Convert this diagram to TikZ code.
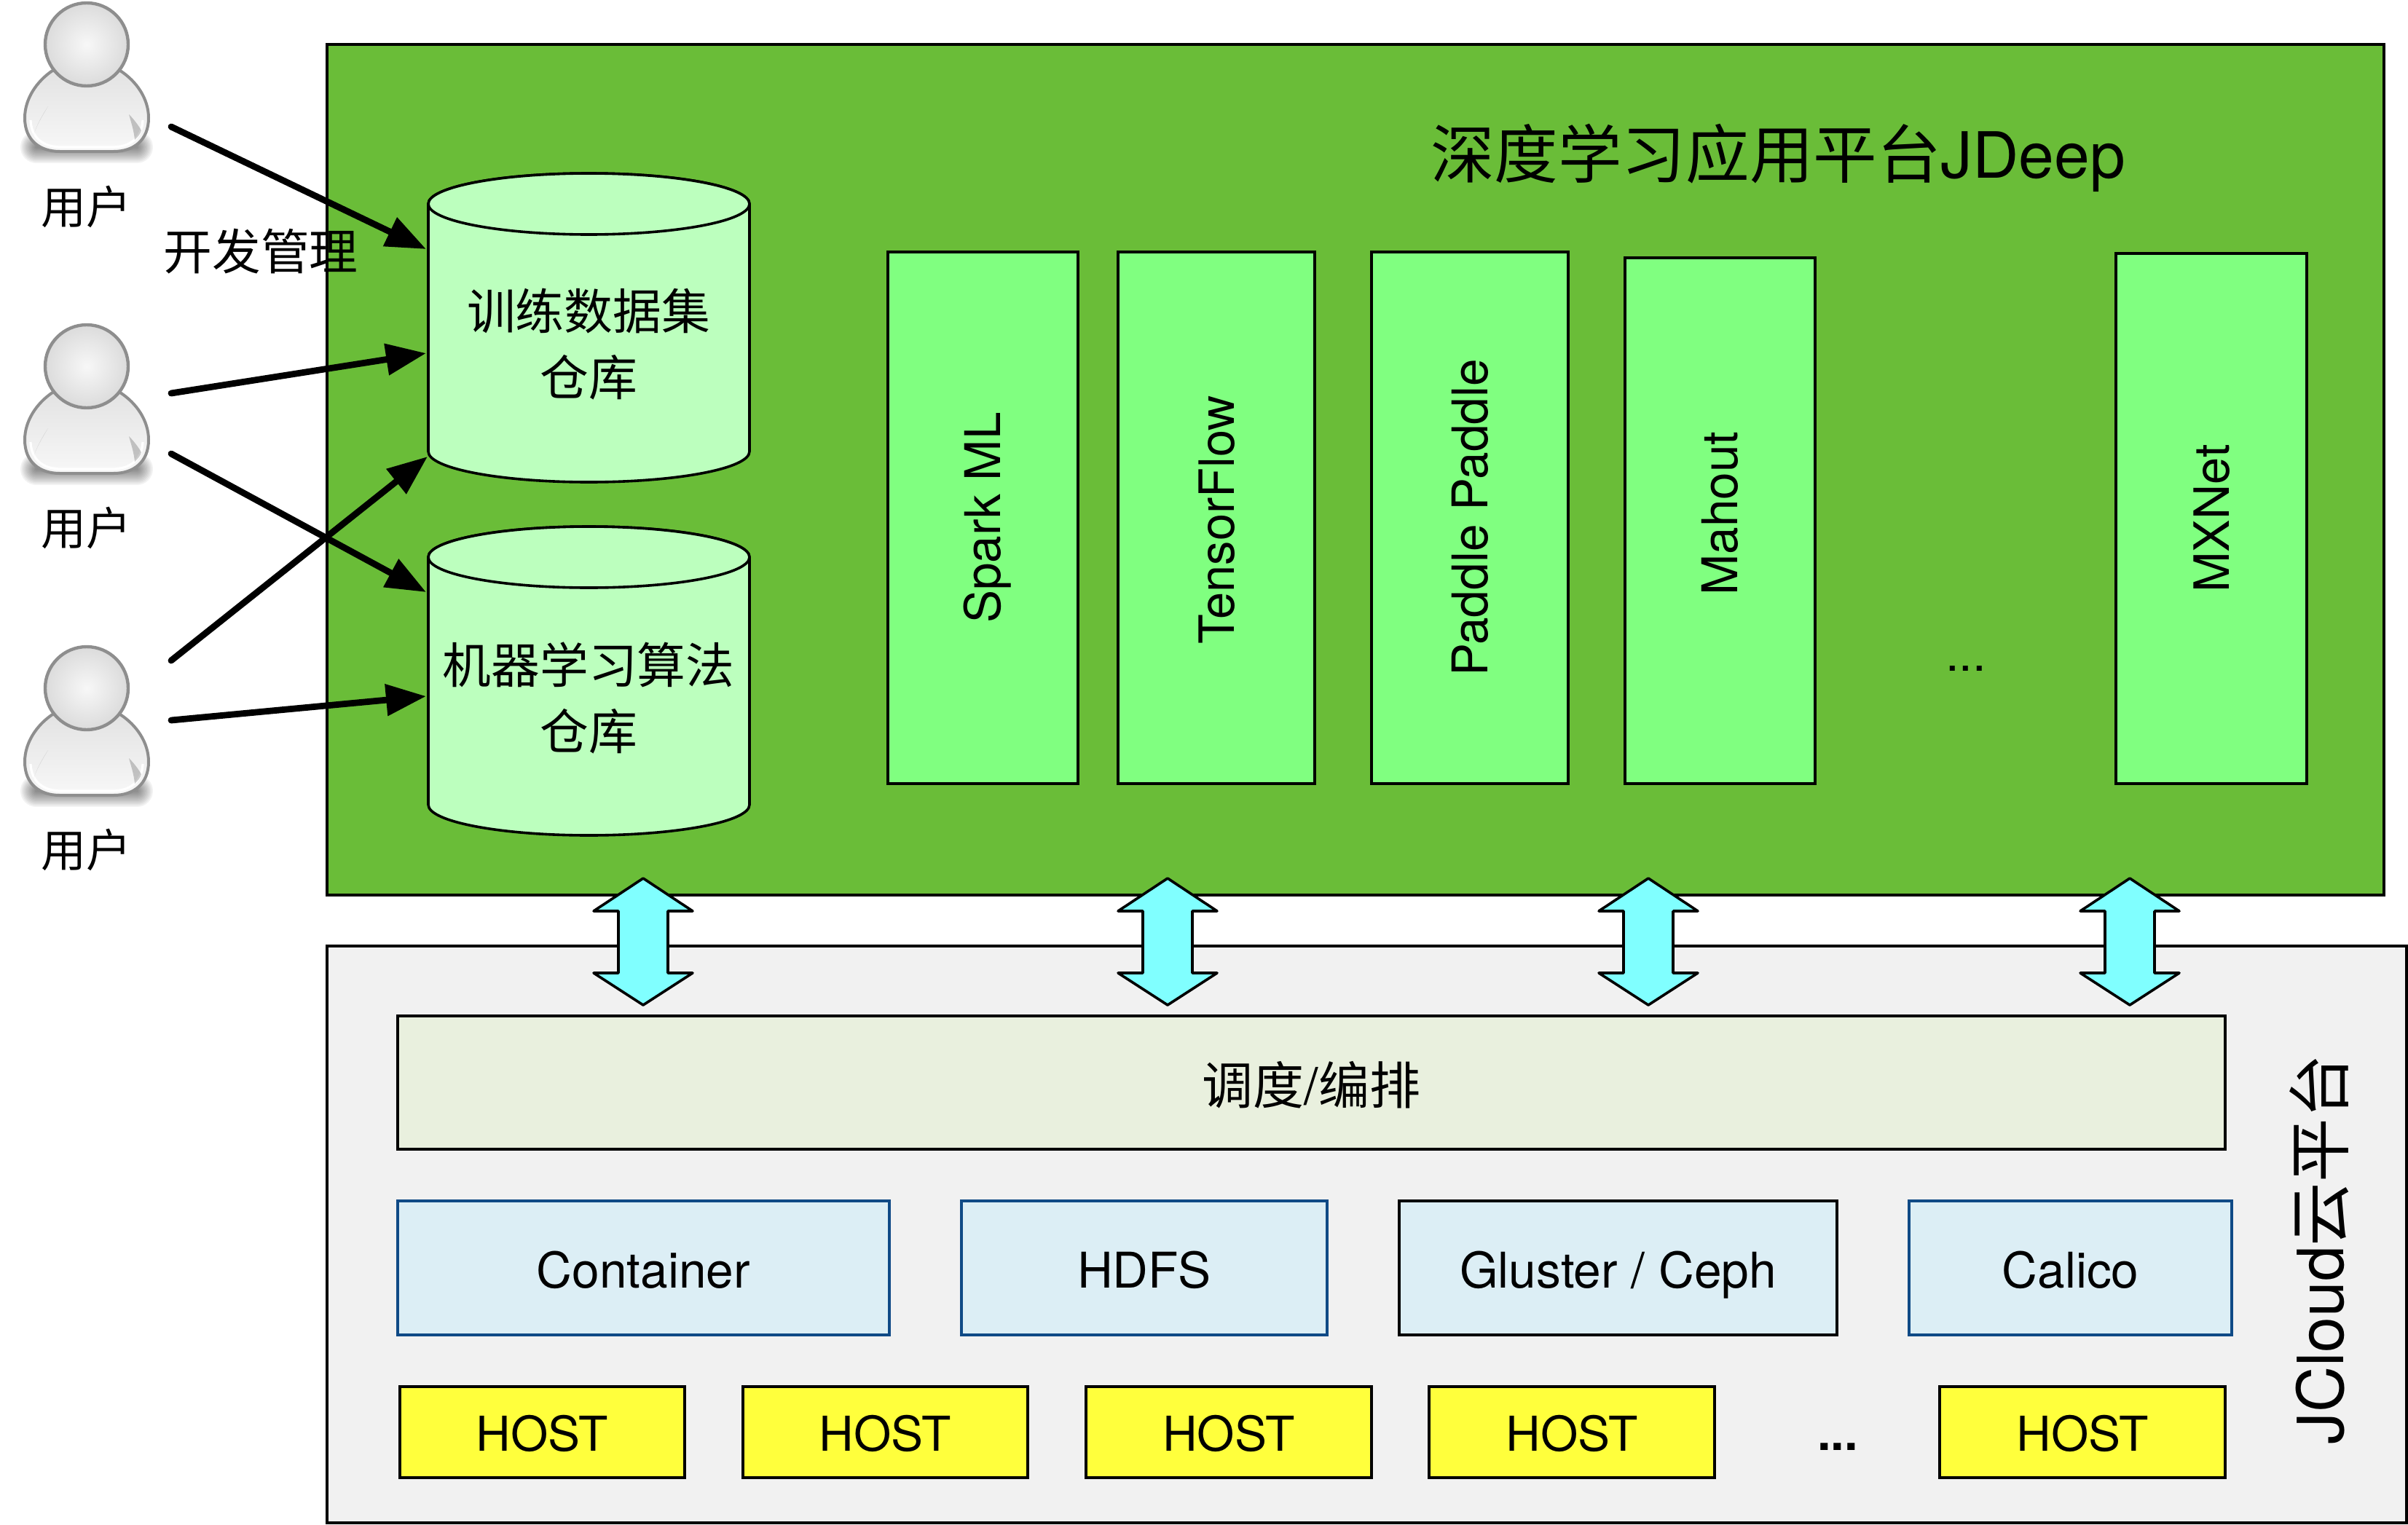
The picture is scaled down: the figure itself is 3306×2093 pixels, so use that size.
\documentclass[tikz,border=0pt]{standalone}
\usepackage{fontspec}
\setmainfont{TeX Gyre Heros}
\newfontfamily\cjk{Noto Sans CJK SC}
\usetikzlibrary{arrows.meta}
\definecolor{pgreen}{HTML}{6ABD38}
\definecolor{cylgreen}{HTML}{BCFFBE}
\definecolor{fwgreen}{HTML}{80FF80}
\definecolor{dblcyan}{HTML}{80FFFF}
\definecolor{cloudgray}{HTML}{F1F1F1}
\definecolor{barcol}{HTML}{E9F0DE}
\definecolor{svcblue}{HTML}{DCEEF5}
\definecolor{svcedge}{HTML}{0F4A86}
\definecolor{hostyellow}{HTML}{FFFF3C}
\definecolor{usergray}{HTML}{8E8E8E}
\newcommand{\ftA}{\fontsize{33.4}{45.5}\selectfont}
\newcommand{\ftL}{\fontsize{33.8}{45.5}\selectfont}
\newcommand{\ftH}{\fontsize{33}{45.5}\selectfont}
\newcommand{\ftB}{\fontsize{43.8}{50}\selectfont}
\newcommand{\bxh}[7][]{%
  \pgfmathsetmacro{\cxv}{(#3+#5)/2}\pgfmathsetmacro{\cyv}{(#4+#6)/2}%
  \pgfmathsetmacro{\wv}{(#5-#3)*0.5}\pgfmathsetmacro{\hv}{(#6-#4)*0.5}%
  \node[boxbase,#1,minimum width=\wv pt,minimum height=\hv pt] (#2) at (\cxv,\cyv) {#7};}
\newcommand{\bxv}[7][]{%
  \pgfmathsetmacro{\cxv}{(#3+#5)/2}\pgfmathsetmacro{\cyv}{(#4+#6)/2}%
  \pgfmathsetmacro{\wv}{(#5-#3)*0.5}\pgfmathsetmacro{\hv}{(#6-#4)*0.5}%
  \node[boxbase,#1,rotate=90,minimum width=\hv pt,minimum height=\wv pt] (#2) at (\cxv,\cyv) {#7};}
\tikzset{
  boxbase/.style={draw=black,line width=1.8pt,inner sep=0pt,font=\ftL,text height=24pt,text depth=0pt},
  fwbox/.style={fill=fwgreen},
  fwtight/.style={fill=fwgreen,font=\fontsize{33.4}{45.5}\selectfont},
  barbox/.style={fill=barcol,font=\fontsize{35}{45}\selectfont,text height=30pt},
  svcbox/.style={fill=svcblue,draw=svcedge,text height=27pt},
  svcblk/.style={fill=svcblue,text height=27pt},
  hostbox/.style={fill=hostyellow,font=\ftH,text height=25.5pt},
  platform/.style={draw=black,line width=1.8pt},
  cyl/.style={draw=black,line width=1.8pt,fill=cylgreen},
  dbl/.style={draw=black,line width=1.8pt,fill=dblcyan,line join=round},
  flow/.style={line width=4.4pt,line cap=round,-{Triangle[length=27.5pt,width=21pt]}},
  txt/.style={inner sep=0pt,font=\ftA,align=center},
  usericon/.pic={
    \foreach \w in {4,8,...,44}{\draw[black,opacity=.05,line width=\w*0.5pt,line cap=round] (50,202) -- (188,202);}
    \path[draw=usergray,line width=2pt,top color=black!11,bottom color=black!3]
      (72,97) .. controls (50,112) and (34,136) .. (34,162)
      .. controls (34,192) and (54,208) .. (82,208) -- (156,208)
      .. controls (184,208) and (204,192) .. (204,162)
      .. controls (204,136) and (188,112) .. (165,97) -- cycle;
    \draw[white,line width=1.6pt] (42,165) .. controls (43,190) and (60,202) .. (84,202) -- (154,202) .. controls (178,202) and (195,190) .. (196,165);
    \fill[black,opacity=.14] (66,146) .. controls (58,158) and (50,172) .. (46,186) .. controls (50,172) and (60,156) .. (66,146) -- cycle;
    \fill[black,opacity=.2] (177,157) .. controls (180,168) and (184,180) .. (185,192) .. controls (189,188) and (193,184) .. (194,179) .. controls (190,172) and (184,164) .. (177,157) -- cycle;
    \path[draw=usergray,line width=2.2pt,inner color=black!3,outer color=black!14] (119,61) ellipse [x radius=57,y radius=57];
  }
}
\begin{document}
\begin{tikzpicture}[x=0.5pt,y=-0.5pt]
\useasboundingbox (0,0) rectangle (3306,2093);
% platforms
\draw[platform,fill=pgreen] (449,61) rectangle (3273,1229);
\draw[platform,fill=cloudgray] (449,1299) rectangle (3304,2091);
% framework boxes
\bxv[fwbox]{spark}{1219}{346}{1480}{1076}{Spark ML}
\bxv[fwtight]{tf}{1535}{346}{1805}{1076}{\hspace*{0pt}TensorFlow\hspace*{3pt}}
\bxv[fwbox]{paddle}{1883}{346}{2153}{1076}{Paddle Paddle}
\bxv[fwbox]{mahout}{2231}{354}{2492}{1076}{\hspace*{10pt}Mahout}
\bxv[fwtight]{mxnet}{2905}{348}{3167}{1076}{MXNet}
\node[txt] (fwdots) at (2699,918) {...};
% cloud layer
\bxh[barbox]{sched}{546}{1395}{3055}{1578}{{\cjk 调度}/{\cjk 编排}}
\bxh[svcbox]{container}{546}{1649}{1221}{1833}{Container}
\bxh[svcbox]{hdfs}{1320}{1649}{1822}{1833}{HDFS}
\bxh[svcblk]{gluster}{1921}{1649}{2522}{1833}{Gluster / Ceph}
\bxh[svcbox]{calico}{2621}{1649}{3064}{1833}{Calico}
\bxh[hostbox]{h1}{549}{1904}{940}{2029}{HOST}
\bxh[hostbox]{h2}{1020}{1904}{1411}{2029}{HOST}
\bxh[hostbox]{h3}{1491}{1904}{1883}{2029}{HOST}
\bxh[hostbox]{h4}{1962}{1904}{2354}{2029}{HOST}
\bxh[hostbox]{h5}{2663}{1904}{3055}{2029}{HOST}
\node[txt,font=\ftA\bfseries] (hostdots) at (2523,1987) {...};
% double arrows
\foreach \cx in {883,1603,2263,2924}{
  \draw[dbl] (\cx,1206) -- (\cx+68,1251) -- (\cx+34,1251) -- (\cx+34,1336) -- (\cx+68,1336)
    -- (\cx,1380) -- (\cx-68,1336) -- (\cx-34,1336) -- (\cx-34,1251) -- (\cx-68,1251) -- cycle;
}
% cylinders
\foreach \dy in {0,485}{
  \draw[cyl] (588,280+\dy) -- (588,620+\dy) arc[start angle=180,end angle=0,x radius=220.5,y radius=42]
    -- (1029,280+\dy) arc[start angle=0,end angle=-180,x radius=220.5,y radius=42] -- cycle;
  \draw[cyl] (808.5,280+\dy) ellipse[x radius=220.5,y radius=42];
}
\node[txt] (store1) at (808,473) {\cjk 训练数据集\\\cjk 仓库};
\node[txt] (store2) at (808,958) {\cjk 机器学习算法\\\cjk 仓库};
% users
\pic at (0,0) {usericon};
\pic at (0,442) {usericon};
\pic at (0,884) {usericon};
\node[txt,font=\fontsize{31}{36}\selectfont\cjk] (u1) at (118,284) {用户};
\node[txt,font=\fontsize{31}{36}\selectfont\cjk] (u2) at (118,725) {用户};
\node[txt,font=\fontsize{31}{36}\selectfont\cjk] (u3) at (118,1167) {用户};
\coordinate (u1o) at (235,174);
\coordinate (u2a) at (235,540);
\coordinate (u2b) at (235,623);
\coordinate (u3a) at (235,907);
\coordinate (u3b) at (235,989);
\coordinate (s1a) at (585,342);
\coordinate (s1b) at (585,485);
\coordinate (s1c) at (587,627);
\coordinate (s2a) at (585,813);
\coordinate (s2b) at (585,956);
\draw[flow] (u1o) -- (s1a);
\draw[flow] (u2a) -- (s1b);
\draw[flow] (u2b) -- (s2a);
\draw[flow] (u3a) -- (s1c);
\draw[flow] (u3b) -- (s2b);
% labels
\node[txt,font=\ftA\cjk] (dev) at (358,345) {开发管理};
\node[txt,font=\ftB] (title) at (2441,217) {{\cjk 深度学习应用平台}JDeep};
\node[txt,font=\ftB,rotate=90] (cloudtitle) at (3184,1716) {JCloud{\cjk 云平台}};
\end{tikzpicture}
\end{document}
